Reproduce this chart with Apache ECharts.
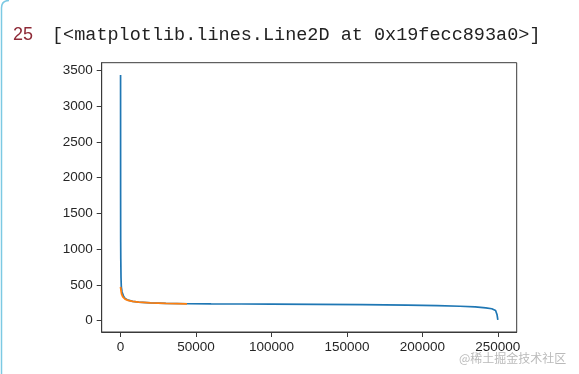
<!DOCTYPE html>
<html>
<head>
<meta charset="utf-8">
<script src="https://cdn.jsdelivr.net/npm/echarts@6/dist/echarts.min.js"></script>
<style>
html,body{margin:0;padding:0;background:#fff;}
#c{width:579px;height:374px;}
</style>
</head>
<body>
<div id="c"></div>
<script>
// ---- data ----
var blueX = [0, 30, 80, 150, 300, 500, 1000, 2000, 3000, 5000, 8000, 12000, 20000, 30000, 45000, 60000, 80000, 100000, 130000, 160000, 190000, 210000, 225000, 235000, 242000, 246000, 248500, 249500, 250000];
var blueY = [3440, 1800, 1100, 860, 600, 470, 400, 340, 310, 285, 268, 258, 248, 240, 235, 233, 231, 229, 226, 222, 215, 208, 200, 190, 178, 165, 140, 80, 10];
var orangeX = [0, 300, 700, 1500, 3000, 5000, 8000, 12000, 20000, 30000, 44000];
var orangeY = [470, 420, 370, 330, 300, 282, 268, 258, 248, 240, 232];
var xTicks = [0, 50000, 100000, 150000, 200000, 250000];
var yTicks = [0, 500, 1000, 1500, 2000, 2500, 3000, 3500];
var promptText = '25';
var outText = '[<matplotlib.lines.Line2D at 0x19fecc893a0>]';
var watermark = '@稀土掘金技术社区';

function pairs(xs, ys){ return xs.map(function(x,i){ return [x, ys[i]]; }); }

var chart = echarts.init(document.getElementById('c'), null, {renderer:'canvas'});
var labelFont = {color:'#262626', fontSize:13.5, fontFamily:'Liberation Sans, Arial, sans-serif'};
chart.setOption({
  animation:false,
  backgroundColor:'#fff',
  grid:{left:101.7, top:62.7, right:62.3, bottom:42, show:true, borderColor:'#3a3a3a', borderWidth:1, backgroundColor:'transparent', containLabel:false},
  xAxis:{
    type:'value', min:-12500, max:262500,
    axisLine:{show:true, onZero:false, lineStyle:{color:'#3a3a3a', width:1}},
    axisTick:{show:true, inside:false, length:5, customValues:xTicks, lineStyle:{color:'#3a3a3a'}},
    axisLabel:Object.assign({customValues:xTicks, margin:8, formatter:function(v){return String(v);}}, labelFont),
    splitLine:{show:false}
  },
  yAxis:{
    type:'value', min:-161, max:3611,
    axisLine:{show:true, onZero:false, lineStyle:{color:'#3a3a3a', width:1}},
    axisTick:{show:true, inside:false, length:5, customValues:yTicks, lineStyle:{color:'#3a3a3a'}},
    axisLabel:Object.assign({customValues:yTicks, margin:9, formatter:function(v){return String(v);}}, labelFont),
    splitLine:{show:false}
  },
  series:[
    {type:'line', data:pairs(blueX, blueY), showSymbol:false, symbol:'none', smooth:false, z:2,
     lineStyle:{color:'#1f77b4', width:1.7}},
    {type:'line', data:pairs(orangeX, orangeY), showSymbol:false, symbol:'none', smooth:false, z:3,
     lineStyle:{color:'#ff7f0e', width:1.8}}
  ],
  graphic:[
    {type:'line', shape:{x1:1.5, y1:8, x2:1.5, y2:374}, style:{stroke:'#7cc9e3', lineWidth:1.5}},
    {type:'bezierCurve', shape:{x1:1.5, y1:8, cpx1:1.5, cpy1:0.5, x2:9, y2:0.5}, style:{fill:null, stroke:'#7cc9e3', lineWidth:1.5}},
    {type:'text', left:13, top:26, style:{text:promptText, fill:'#8e2a37', font:'18px "Liberation Sans", Arial, sans-serif'}},
    {type:'text', left:52, top:26, style:{text:outText, fill:'#222', font:'18.5px "Liberation Mono", "Courier New", monospace'}},
    {type:'text', left:459, top:352, z:100, style:{text:watermark, fill:'rgba(140,140,140,0.6)', font:'12px "Noto Sans CJK SC", sans-serif'}}
  ]
});
</script>
</body>
</html>
